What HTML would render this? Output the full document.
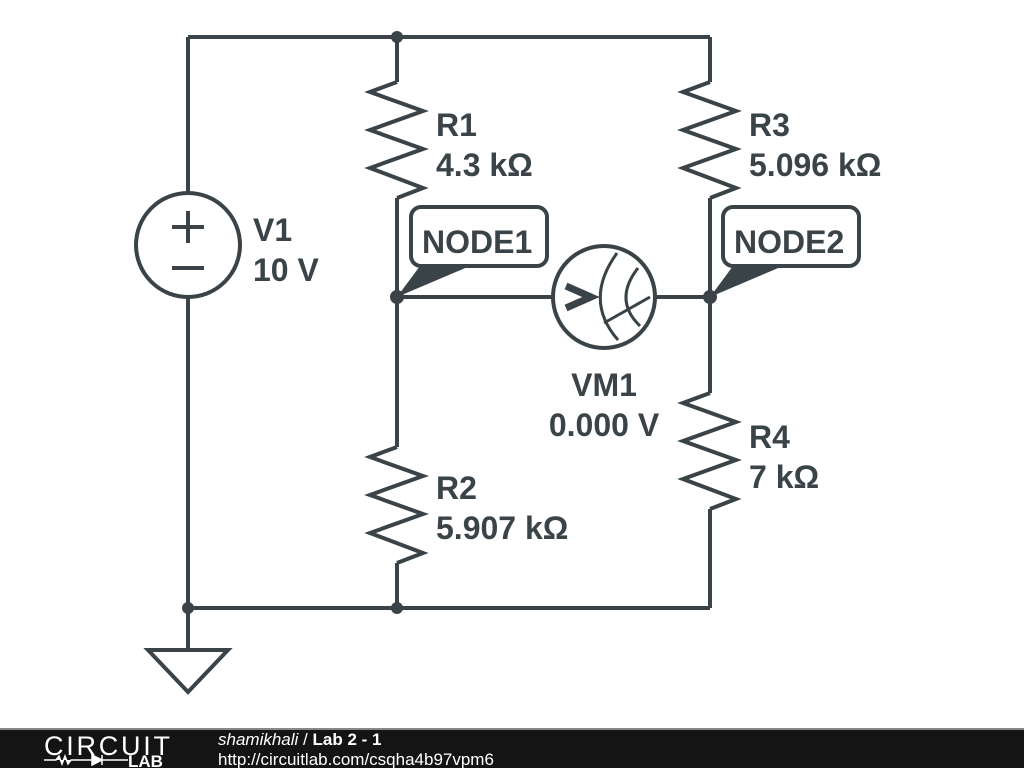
<!DOCTYPE html>
<html><head><meta charset="utf-8"><style>
html,body{margin:0;padding:0;background:#fff;}
svg{display:block}
text{font-family:"Liberation Sans",sans-serif;font-weight:bold;fill:#3a4347}
</style></head><body>
<svg width="1024" height="768" viewBox="0 0 1024 768" xmlns="http://www.w3.org/2000/svg">
<defs>
<path id="zz" d="M0,0 L-27,10 L26,29 L-27,48 L26,67 L-27,86 L26,106 L0,116" fill="none"/>
</defs>
<g stroke="#3a4347" stroke-width="4" fill="none" stroke-linejoin="miter">
<path d="M188,37 H710"/>
<path d="M188,37 V192 M188,298 V608 M188,608 H710 M188,608 V650"/>
<circle cx="188" cy="245" r="52"/>
<path d="M172,227 H204 M188,211 V243 M172,268 H204"/>
<polygon points="148,650 228,650 188,692"/>
<path d="M397,37 V82 M397,198 V447 M397,563 V608"/>
<use href="#zz" x="397" y="82"/>
<use href="#zz" x="397" y="447"/>
<path d="M710,37 V82 M710,198 V393 M710,509 V608"/>
<use href="#zz" x="710" y="82"/>
<use href="#zz" x="710" y="393"/>
<path d="M397,297 H553 M655,297 H710"/>
<circle cx="604" cy="297" r="51"/>
<path d="M566,286 L591,297 L566,308" stroke-width="7"/>
<path d="M617,253 Q583,300 618,340 M638,268 Q613,300 640,326 M604,323 L650,297" stroke-width="3"/>
<rect x="411" y="207" width="136" height="59" rx="10"/>
<rect x="723" y="207" width="136" height="59" rx="10"/>
</g>
<g fill="#3a4347">
<polygon points="397,297 420,266 470,266"/>
<polygon points="710,297 733,266 783,266"/>
<circle cx="397" cy="37" r="6"/>
<circle cx="397" cy="297" r="7"/>
<circle cx="710" cy="297" r="7"/>
<circle cx="188" cy="608" r="6"/>
<circle cx="397" cy="608" r="6"/>
</g>
<g font-size="32">
<text x="436" y="136">R1</text><text x="436" y="176">4.3 kΩ</text>
<text x="749" y="136">R3</text><text x="749" y="176">5.096 kΩ</text>
<text x="253" y="241">V1</text><text x="253" y="281">10 V</text>
<text x="422" y="253">NODE1</text><text x="734" y="253">NODE2</text>
<text x="604" y="396" text-anchor="middle">VM1</text><text x="604" y="436" text-anchor="middle">0.000 V</text>
<text x="436" y="499">R2</text><text x="436" y="539">5.907 kΩ</text>
<text x="749" y="448">R4</text><text x="749" y="488">7 kΩ</text>
</g>
<rect x="0" y="729" width="1024" height="39" fill="#141414"/>
<rect x="0" y="728" width="1024" height="2" fill="#888"/>
<text x="44" y="755" font-size="27" style="font-weight:normal;fill:#fff" font-family="DejaVu Sans" textLength="126">CIRCUIT</text>
<path d="M44,760 H56 l3,-4 3,8 3,-8 3,8 3,-4 H92 M92,755 V765 L102,760 Z M102,755 V765 M102,760 H128" stroke="#fff" stroke-width="1.5" fill="#fff"/>
<text x="128" y="767" font-size="17" style="fill:#fff" font-family="DejaVu Sans">LAB</text>
<text x="218" y="745" font-size="17" style="fill:#fff;font-weight:normal;font-style:italic" font-family="DejaVu Sans">shamikhali <tspan style="font-style:normal">/</tspan> <tspan style="font-weight:bold;font-style:normal">Lab 2 - 1</tspan></text>
<text x="218" y="765" font-size="17" style="fill:#fff;font-weight:normal" font-family="DejaVu Sans">http://circuitlab.com/csqha4b97vpm6</text>
</svg>
</body></html>
